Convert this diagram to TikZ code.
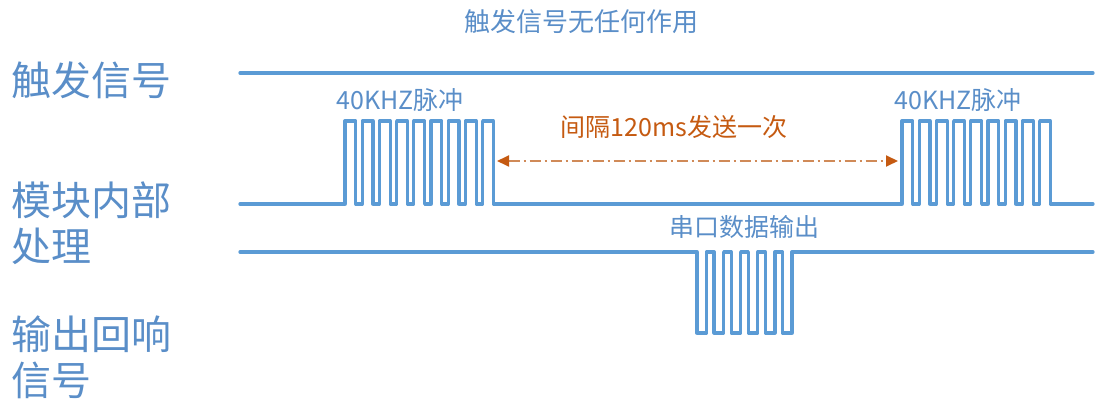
\documentclass[tikz,border=0pt]{standalone}
\usepackage{fontspec}
\setmainfont{Noto Sans CJK SC}
\usetikzlibrary{arrows.meta}
\definecolor{sig}{HTML}{5B9BD5}
\definecolor{lbl}{HTML}{5A8EC8}
\definecolor{org}{HTML}{C55A11}
\definecolor{orgl}{HTML}{D08A58}
\begin{document}
\begin{tikzpicture}[x=1pt,y=-1pt,
  wave/.style={draw=sig,line width=3.3pt,line join=round,line cap=round},
  biglabel/.style={text=lbl,font=\fontsize{40}{46}\selectfont,anchor=west,inner sep=0pt,align=left},
  small/.style={text=lbl,font=\fontsize{25}{28}\selectfont,inner sep=0pt},
  note/.style={text=org,font=\fontsize{25}{28}\selectfont,inner sep=0pt},
  otip/.tip={Triangle[length=12pt,width=11pt,color=org,fill=org]}]
\useasboundingbox (0,0) rectangle (1100,403);
% left labels
\node[biglabel] (ltrig) at (11,80) {触发信号};
\node[biglabel] (lmod1) at (11,200) {模块内部};
\node[biglabel] (lmod2) at (11,246) {处理};
\node[biglabel] (lout1) at (11,334) {输出回响};
\node[biglabel] (lout2) at (11,380) {信号};
% top note
\node[small,font=\fontsize{26}{28}\selectfont] (top) at (581,22) {触发信号无任何作用};
% trigger line
\draw[wave] (240,73) -- (1093,73);
% module line with two bursts
\draw[wave] (240,204) -- (345,204)
  \foreach \i in {1,...,9} { -- ++(0,-83) -- ++(10.8,0) -- ++(0,83) -- ++(6.4,0) }
  -- (902,204)
  \foreach \i in {1,...,9} { -- ++(0,-83) -- ++(10.8,0) -- ++(0,83) -- ++(6.4,0) }
  -- (1093,204);
% output line with one burst
\draw[wave] (240,252) -- (697,252)
  \foreach \i in {1,...,6} { -- ++(0,81) -- ++(9.5,0) -- ++(0,-81) -- ++(7.6,0) }
  -- (1093,252);
% labels above bursts
\node[small] (p1) at (400,100) {40KHZ脉冲};
\node[small] (p2) at (958,100) {40KHZ脉冲};
\node[small] (ser) at (744,227) {串口数据输出};
% interval arrow
\coordinate (b1end) at (497,161);
\coordinate (b2start) at (898,161);
\draw[orgl,line width=1.8pt,dash pattern=on 11pt off 4pt on 2pt off 4pt,otip-otip]
  (b1end) -- (b2start);
\node[note] (gap) at (674,127) {间隔120ms发送一次};
\end{tikzpicture}
\end{document}
